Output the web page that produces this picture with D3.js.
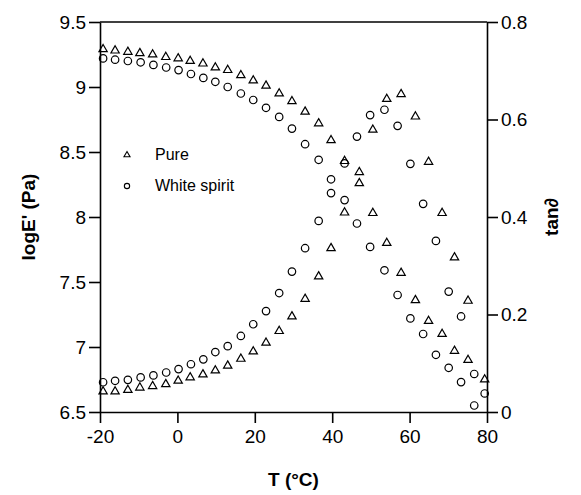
<!DOCTYPE html>
<html>
<head>
<meta charset="utf-8">
<script src="https://cdn.jsdelivr.net/npm/d3@7/dist/d3.min.js"></script>
<style>
  html, body { margin: 0; padding: 0; background: #fff; }
  svg { display: block; font-family: "Liberation Sans", Arial, sans-serif; }
</style>
</head>
<body>
<svg id="chart" width="581" height="495"></svg>
<script>
// ---- data ----
const tPure = [-19.2,-16.1,-12.8,-9.7,-6.4,-3.0,0.2,3.3,6.6,9.8,13.0,16.4,19.6,22.9,26.3,29.6,33.0,36.5,39.7,43.2,47.0,50.5,54.1,57.8,61.5,64.9,68.4,71.6,75.1,79.4];
const logEPure = [9.29,9.28,9.27,9.26,9.25,9.23,9.22,9.20,9.18,9.15,9.13,9.09,9.05,9.01,8.95,8.89,8.81,8.72,8.59,8.43,8.26,8.03,7.80,7.57,7.36,7.20,7.10,6.97,6.90,6.75];
const tanPure = [0.042,0.042,0.045,0.050,0.053,0.057,0.064,0.071,0.077,0.085,0.095,0.109,0.124,0.142,0.166,0.196,0.232,0.278,0.336,0.409,0.492,0.579,0.642,0.652,0.606,0.513,0.408,0.317,0.228];

const tWS = [-19.2,-16.1,-12.8,-9.5,-6.2,-2.9,0.3,3.5,6.7,9.8,13.0,16.4,19.6,22.9,26.3,29.6,33.0,36.5,39.7,43.2,46.4,49.8,53.5,56.9,60.2,63.5,66.8,70.1,73.3,76.7,79.4];
const logEWS = [9.22,9.21,9.20,9.19,9.17,9.15,9.13,9.10,9.07,9.04,9.00,8.95,8.90,8.84,8.77,8.68,8.56,8.44,8.29,8.13,7.95,7.77,7.59,7.40,7.22,7.10,6.94,6.84,6.73,6.55];
const tanWS = [0.061,0.064,0.066,0.071,0.075,0.081,0.088,0.098,0.108,0.123,0.135,0.156,0.180,0.207,0.244,0.288,0.336,0.392,0.449,0.510,0.565,0.609,0.620,0.587,0.509,0.427,0.351,0.247,0.196,0.078,0.038];

const xTicks = [-20,0,20,40,60,80];
const yLeftTicks = [6.5,7,7.5,8,8.5,9,9.5];
const yLeftLabels = ["6.5","7","7.5","8","8.5","9","9.5"];
const yRightTicks = [0,0.2,0.4,0.6,0.8];
const yRightLabels = ["0","0.2","0.4","0.6","0.8"];
const legendLabels = ["Pure","White spirit"];

// ---- layout ----
const svg = d3.select("#chart");
const L = 100, R = 487, T = 22, B = 412;
const x = d3.scaleLinear().domain([-20,80]).range([L,R]);
const yL = d3.scaleLinear().domain([6.5,9.5]).range([B,T]);
const yR = d3.scaleLinear().domain([0,0.8]).range([B,T]);

const fontSize = 19;

function styleAxis(g){
  g.selectAll(".domain").attr("stroke","#000").attr("stroke-width",1.6);
  g.selectAll(".tick line").attr("stroke","#000").attr("stroke-width",1.6);
  g.selectAll(".tick text").attr("fill","#000").style("font-size",fontSize+"px")
    .style("font-family",'"Liberation Sans", Arial, sans-serif');
}

// top border
svg.append("line").attr("x1",L).attr("x2",R).attr("y1",T).attr("y2",T)
  .attr("stroke","#000").attr("stroke-width",1.6);

const gx = svg.append("g").attr("transform",`translate(0,${B})`)
  .call(d3.axisBottom(x).tickValues(xTicks).tickSize(11).tickSizeOuter(0).tickPadding(7).tickFormat(d=>String(d)));
styleAxis(gx);

const gl = svg.append("g").attr("transform",`translate(${L},0)`)
  .call(d3.axisLeft(yL).tickValues(yLeftTicks).tickSize(11).tickSizeOuter(0).tickPadding(3)
    .tickFormat((d,i)=>yLeftLabels[i]));
styleAxis(gl);

const gr = svg.append("g").attr("transform",`translate(${R},0)`)
  .call(d3.axisRight(yR).tickValues(yRightTicks).tickSize(11).tickSizeOuter(0).tickPadding(3)
    .tickFormat((d,i)=>yRightLabels[i]));
styleAxis(gr);

// axis titles
svg.append("text").attr("x",(L+R)/2).attr("y",486).attr("text-anchor","middle")
  .style("font-size","19px").style("font-weight","bold").text("T (°C)");
svg.append("text").attr("transform",`translate(35,${(T+B)/2}) rotate(-90)`).attr("text-anchor","middle")
  .style("font-size","19px").style("font-weight","bold").text("logE' (Pa)");
svg.append("text").attr("transform",`translate(558,${(T+B)/2}) rotate(-90)`).attr("text-anchor","middle")
  .style("font-size","19px").style("font-weight","bold").text("tan∂");

// markers
const tri = d3.symbol().type(d3.symbolTriangle).size(30);
const cir = d3.symbol().type(d3.symbolCircle).size(44);

function drawSeries(tArr, vArr, yScale, gen){
  svg.append("g").selectAll("path").data(vArr).join("path")
    .attr("d", gen)
    .attr("transform",(d,i)=>`translate(${x(tArr[i])},${yScale(d)})`)
    .attr("fill","none").attr("stroke","#000").attr("stroke-width",1.2);
}
drawSeries(tPure, logEPure, yL, tri);
drawSeries(tPure, tanPure, yR, tri);
drawSeries(tWS, logEWS, yL, cir);
drawSeries(tWS, tanWS, yR, cir);

// legend
const lg = svg.append("g");
lg.append("path").attr("d", d3.symbol().type(d3.symbolTriangle).size(16)())
  .attr("transform","translate(127,155)").attr("fill","none").attr("stroke","#000").attr("stroke-width",1.1);
lg.append("path").attr("d", d3.symbol().type(d3.symbolCircle).size(22)())
  .attr("transform","translate(127,186)").attr("fill","none").attr("stroke","#000").attr("stroke-width",1.1);
lg.append("text").attr("x",155).attr("y",160).style("font-size","16px").text(legendLabels[0]);
lg.append("text").attr("x",155).attr("y",191).style("font-size","16px").text(legendLabels[1]);
</script>
</body>
</html>
